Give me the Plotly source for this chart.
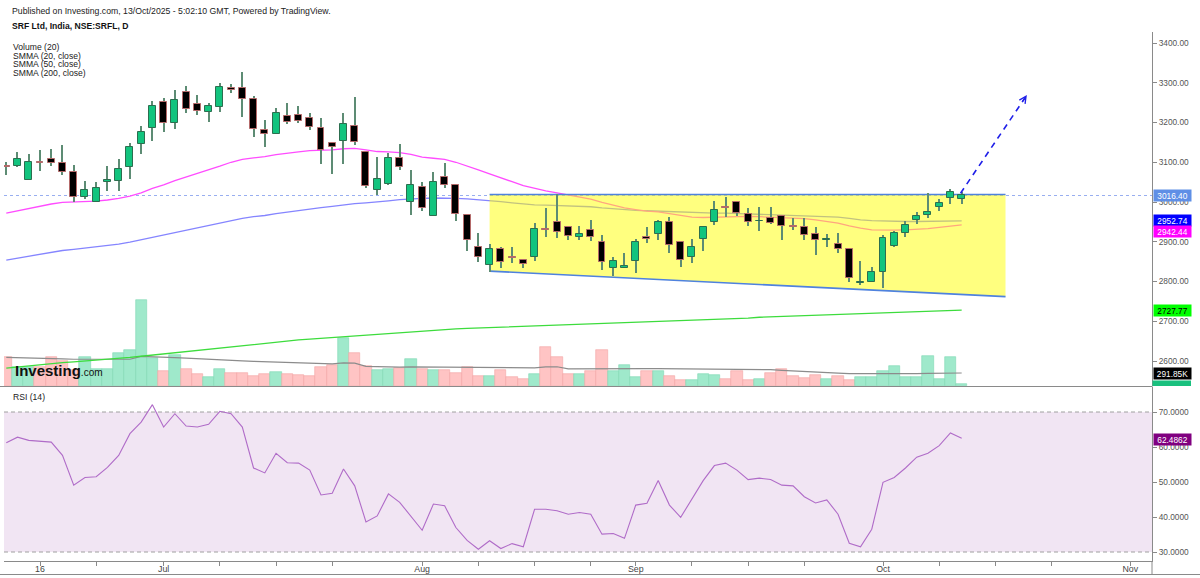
import plotly.graph_objects as go

# ---------------- data ----------------
day_index = list(range(-3, 83))          # trading-day index, 0 = 16 Jun 2025, 82 = 13 Oct 2025

opens = [3090, 3091, 3055, 3101, 3108, 3099, 3076, 3012, 3001, 3051, 3053, 3089, 3146, 3185, 3251, 3200,
         3277, 3247, 3227, 3240, 3288, 3286, 3258, 3180, 3171, 3217, 3219, 3211, 3185, 3149, 3153, 3191,
         3127, 3031, 3045, 3111, 3001, 3038, 2966, 3062, 3043, 2967, 2887, 2841, 2881, 2861, 2854, 2861,
         2931, 2950, 2938, 2913, 2930, 2900, 2833, 2835, 2852, 2913, 2919, 2950, 2900, 2862, 2906, 2949,
         2988, 3000, 2971, 2951, 2959, 2965, 2939, 2938, 2919, 2905, 2894, 2881, 2797, 2800, 2824, 2890,
         2921, 2955, 2967, 2988, 3009, 3007]
highs = [3101, 3127, 3120, 3131, 3133, 3143, 3093, 3053, 3051, 3090, 3107, 3149, 3191, 3254, 3261, 3283,
         3292, 3269, 3248, 3299, 3296, 3326, 3267, 3206, 3237, 3250, 3241, 3225, 3211, 3151, 3225, 3263,
         3127, 3114, 3124, 3146, 3080, 3050, 3075, 3097, 3043, 2967, 2922, 2894, 2886, 2888, 2856, 2947,
         2984, 3019, 2940, 2940, 2955, 2917, 2861, 2872, 2906, 2936, 2955, 2963, 2900, 2906, 2940, 3003,
         3012, 3003, 2986, 2988, 2987, 2967, 2959, 2959, 2938, 2919, 2922, 2881, 2852, 2837, 2917, 2928,
         2953, 2975, 3023, 3007, 3032, 3026]
lows = [3068, 3089, 3055, 3078, 3090, 3068, 3001, 3007, 3000, 3027, 3028, 3057, 3121, 3154, 3177, 3183,
        3225, 3219, 3202, 3227, 3273, 3215, 3164, 3138, 3170, 3196, 3198, 3181, 3096, 3070, 3096, 3143,
        3034, 3017, 3043, 3080, 2967, 2977, 2966, 3034, 2952, 2877, 2848, 2823, 2833, 2846, 2833, 2852,
        2913, 2909, 2904, 2904, 2903, 2829, 2814, 2834, 2821, 2896, 2904, 2871, 2837, 2847, 2877, 2942,
        2963, 2966, 2940, 2928, 2944, 2905, 2930, 2904, 2867, 2886, 2871, 2800, 2791, 2798, 2783, 2888,
        2911, 2944, 2959, 2978, 2995, 2994]
closes = [3088, 3108, 3100, 3099, 3099, 3076, 3013, 3031, 3034, 3055, 3082, 3138, 3177, 3242, 3200, 3257,
          3233, 3230, 3241, 3289, 3283, 3259, 3183, 3171, 3225, 3202, 3203, 3188, 3131, 3138, 3195, 3152,
          3040, 3058, 3111, 3087, 3042, 2986, 3051, 3043, 2971, 2904, 2862, 2881, 2848, 2858, 2843, 2931,
          2929, 2925, 2915, 2919, 2911, 2850, 2852, 2838, 2900, 2906, 2950, 2892, 2854, 2887, 2936, 2980,
          2986, 2973, 2950, 2953, 2948, 2940, 2937, 2917, 2904, 2908, 2881, 2808, 2799, 2824, 2909, 2921,
          2941, 2966, 2974, 2997, 3024, 3016.40]

volume_k = [644, 427, 427, 427, 644, 554, 367, 651, 382, 382, 741, 816, 1938, 629, 344, 703,
            382, 277, 202, 382, 292, 292, 217, 277, 314, 269, 254, 232, 427, 479, 1078, 741,
            456, 352, 389, 404, 614, 382, 352, 367, 292, 427, 232, 217, 367, 202, 157, 269,
            876, 644, 269, 277, 329, 816, 329, 479, 202, 329, 329, 217, 127, 142, 277, 254,
            157, 344, 142, 157, 292, 389, 232, 180, 254, 157, 217, 127, 202, 202, 344, 456,
            202, 202, 681, 157, 644, 40.697]
volume_ma_k = [644, 640, 630, 620, 615, 610, 600, 600, 595, 590, 595, 600, 665, 660, 640, 635,
               625, 610, 595, 585, 575, 565, 555, 545, 535, 525, 515, 505, 500, 495, 520, 515,
               440, 432, 428, 425, 430, 428, 425, 425, 425, 425, 420, 418, 415, 412, 410, 408,
               430, 432, 385, 388, 388, 392, 392, 393, 392, 391, 391, 390, 388, 386, 386, 385,
               383, 380, 378, 372, 366, 350, 335, 318, 305, 295, 288, 280, 277, 276, 277, 280,
               278, 276, 284, 282, 289, 291.85]

smma20 = [2972, 2978, 2984, 2990, 2995, 2999, 3000, 3001, 3002, 3005, 3009, 3015, 3023, 3034, 3043, 3054,
          3063, 3071, 3080, 3090, 3100, 3107, 3111, 3114, 3119, 3123, 3126, 3129, 3130, 3131, 3134, 3135,
          3131, 3127, 3126, 3124, 3120, 3113, 3110, 3107, 3100, 3091, 3081, 3071, 3060, 3051, 3041, 3034,
          3028, 3023, 3018, 3013, 3007, 2999, 2992, 2985, 2981, 2977, 2975, 2971, 2966, 2962, 2961, 2962,
          2963, 2964, 2964, 2963, 2962, 2961, 2960, 2958, 2955, 2951, 2947, 2940, 2934, 2930, 2929, 2929,
          2930, 2931, 2933, 2936, 2939, 2942.44]
smma50 = [2854, 2859, 2864, 2869, 2874, 2878, 2881, 2884, 2887, 2890, 2894, 2899, 2905, 2912, 2918, 2924,
          2930, 2936, 2942, 2948, 2954, 2959, 2963, 2966, 2971, 2975, 2979, 2983, 2986, 2989, 2993, 2996,
          2998, 3000, 3003, 3006, 3008, 3009, 3010, 3010, 3009, 3008, 3006, 3004, 3001, 2998, 2995, 2993,
          2992, 2991, 2990, 2989, 2988, 2985, 2983, 2980, 2979, 2978, 2977, 2976, 2974, 2973, 2972, 2972,
          2972, 2971, 2971, 2970, 2969, 2968, 2967, 2966, 2965, 2964, 2962, 2959, 2955, 2953, 2952, 2952,
          2951, 2951, 2951, 2951, 2952, 2952.74]
smma200 = [2582, 2585, 2588, 2591, 2594, 2596, 2598, 2600, 2602, 2604, 2606, 2609, 2612, 2615, 2618, 2621,
           2624, 2627, 2630, 2633, 2636, 2639, 2642, 2644, 2647, 2650, 2653, 2655, 2657, 2660, 2662, 2664,
           2666, 2668, 2670, 2672, 2674, 2676, 2677, 2679, 2681, 2682, 2683, 2684, 2685, 2686, 2687, 2688,
           2689, 2690, 2691, 2693, 2694, 2695, 2696, 2697, 2698, 2699, 2700, 2701, 2702, 2703, 2704, 2705,
           2706, 2707, 2708, 2710, 2711, 2712, 2713, 2714, 2715, 2716, 2717, 2717, 2718, 2719, 2720, 2721,
           2722, 2723, 2724, 2725, 2726, 2727.77]
rsi14 = [61.2, 62.8, 61.9, 61.7, 61.4, 57.6, 49.1, 51.3, 51.5, 54.2, 57.6, 63.8, 67.1, 72.1, 65.7, 69.5,
         66.0, 65.7, 66.5, 70.2, 69.5, 65.7, 54.0, 52.6, 58.2, 55.5, 55.4, 53.4, 46.3, 46.8, 53.7, 48.9,
         38.6, 40.3, 46.6, 44.2, 40.3, 36.2, 43.7, 43.2, 37.0, 33.3, 30.8, 33.2, 31.0, 32.4, 31.5, 42.2,
         42.2, 41.8, 40.8, 41.3, 40.8, 35.1, 35.3, 33.9, 43.4, 43.9, 50.4, 43.4, 39.9, 45.1, 50.4, 54.7,
         55.4, 53.4, 50.7, 51.1, 50.7, 49.1, 48.9, 45.8, 44.0, 44.9, 40.8, 32.5, 31.5, 36.5, 49.9, 51.3,
         54.0, 57.1, 58.2, 60.4, 64.0, 62.4862]

# drawings
box_x = [40, 85.9]            # trading-day index span of the yellow channel
box_top = 3019.0
box_bottom = [2826.0, 2762.0]  # sloping lower edge
arrow_x = [81.9, 87.8]
arrow_y = [3022.0, 3269.0]
last_price = 3016.40

tick_index = [0, 5, 11, 16, 21, 26, 34, 39, 44, 49, 53, 58, 63, 68, 75, 80, 85, 90, 97]
tick_text = ['16', '', 'Jul', '', '', '', 'Aug', '', '', '', 'Sep', '', '', '', 'Oct', '', '', '', 'Nov']
price_ticks = [2600, 2700, 2800, 2900, 3000, 3100, 3200, 3300, 3400]
rsi_ticks = [30, 40, 50, 60, 70]

# ---------------- layout helpers ----------------
W, H = 1200, 578
L, R, T, B = 4, 48, 32, 17
PW, PH = W - L - R, H - T - B


def px(X):
    return (X - L) / PW


def py(Y):
    return (H - B - Y) / PH


FONT = "Liberation Sans, Arial, sans-serif"
UP_FILL, UP_LINE = '#12c47e', '#2c6e4f'
DN_FILL, DN_LINE = '#000000', '#b46a6a'
WICK = '#5d8c74'

up = [c >= o for o, c in zip(opens, closes)]

fig = go.Figure()

# volume (main subplot, bottom layer)
fig.add_trace(go.Bar(
    x=day_index, y=volume_k, width=1.0, xaxis='x', yaxis='y',
    marker=dict(color=['#9fe9cb' if u else '#ffc4c4' for u in up],
                line=dict(color=['#7fd9b3' if u else '#f2a5a5' for u in up], width=0.6)),
    hoverinfo='skip', showlegend=False))
fig.add_trace(go.Scatter(x=day_index, y=volume_ma_k, mode='lines', xaxis='x', yaxis='y',
                         line=dict(color='#8c8c8c', width=1.2), hoverinfo='skip', showlegend=False))

# moving averages (price subplot)
for vals, col in [(smma200, '#3ddc3d'), (smma50, '#8585ff'), (smma20, '#ff4cff')]:
    fig.add_trace(go.Scatter(x=day_index, y=vals, mode='lines', xaxis='x', yaxis='y2',
                             line=dict(color=col, width=1.3), hoverinfo='skip', showlegend=False))

# yellow channel
fig.add_trace(go.Scatter(
    x=[box_x[0], box_x[1], box_x[1], box_x[0], box_x[0]],
    y=[box_top, box_top, box_bottom[1], box_bottom[0], box_top],
    mode='lines', fill='toself', fillcolor='rgba(255,255,0,0.5)', line=dict(width=0),
    xaxis='x', yaxis='y2', hoverinfo='skip', showlegend=False))
fig.add_trace(go.Scatter(x=box_x, y=[box_top, box_top], mode='lines', xaxis='x', yaxis='y2',
                         line=dict(color='#4f82de', width=1.6), hoverinfo='skip', showlegend=False))
fig.add_trace(go.Scatter(x=box_x, y=box_bottom, mode='lines', xaxis='x', yaxis='y2',
                         line=dict(color='#4f82de', width=1.6), hoverinfo='skip', showlegend=False))

# candles (top subplot)
fig.add_trace(go.Bar(
    x=day_index, y=[h - l for h, l in zip(highs, lows)], base=lows, width=0.1,
    xaxis='x', yaxis='y3', marker=dict(color=WICK, line=dict(width=0)),
    hoverinfo='skip', showlegend=False))
fig.add_trace(go.Bar(
    x=day_index, y=[abs(c - o) for o, c in zip(opens, closes)],
    base=[min(o, c) for o, c in zip(opens, closes)], width=0.62,
    xaxis='x', yaxis='y3',
    marker=dict(color=[UP_FILL if u else DN_FILL for u in up],
                line=dict(color=[UP_LINE if u else DN_LINE for u in up], width=1)),
    hoverinfo='skip', showlegend=False))

# RSI
fig.add_trace(go.Scatter(x=day_index, y=rsi14, mode='lines', xaxis='x', yaxis='y4',
                         line=dict(color='#b06cc8', width=1.1), hoverinfo='skip', showlegend=False))

p_lo = 3400 - (386 - 43) / 0.3975
p_hi = 3400 + (43 - 32) / 0.3975
r_lo = 30 - (561 - 552) / 3.5
r_hi = 30 + (552 - 387) / 3.5
price_dom = [py(386), 1]
rsi_dom = [0, py(387)]

axis_font = dict(family=FONT, size=8.3, color='#555')
fig.update_layout(
    width=W, height=H, margin=dict(l=L, r=R, t=T, b=B, autoexpand=False), autosize=False,
    paper_bgcolor='white', plot_bgcolor='white', barmode='overlay', bargap=0,
    font=dict(family=FONT, color='#333'), showlegend=False,
    xaxis=dict(range=[(L - 40) / 11.24, (W - R - 40) / 11.24], anchor='y4', showgrid=False, zeroline=False,
               automargin=False, ticklabelstandoff=-5,
               showline=True, linecolor='#8a8a8a', linewidth=1, ticks='outside', ticklen=4,
               tickcolor='#8a8a8a', tickvals=tick_index, ticktext=tick_text,
               tickfont=dict(family=FONT, size=8.8, color='#444')),
    yaxis=dict(domain=price_dom, range=[0, (386 - 32) * 22.45], visible=False, fixedrange=True,
               automargin=False),
    yaxis2=dict(domain=price_dom, range=[p_lo, p_hi], overlaying='y', side='right', anchor='x',
                automargin=False,
                showgrid=False, zeroline=False, showline=True, linecolor='#8a8a8a', linewidth=1,
                ticks='outside', ticklen=4, tickcolor='#8a8a8a', tickvals=price_ticks,
                tickformat='.2f', tickfont=axis_font),
    yaxis3=dict(domain=price_dom, range=[p_lo, p_hi], overlaying='y', visible=False, automargin=False),
    yaxis4=dict(domain=rsi_dom, range=[r_lo, r_hi], side='right', anchor='x', showgrid=False,
                automargin=False,
                zeroline=False, showline=True, linecolor='#8a8a8a', linewidth=1, ticks='outside',
                ticklen=4, tickcolor='#8a8a8a', tickvals=rsi_ticks, tickformat='.4f', tickfont=axis_font),
)

shapes = [
    # RSI band
    dict(type='rect', xref='x domain', yref='y4', x0=0, x1=1, y0=30, y1=70,
         fillcolor='#f1e5f3', line=dict(width=0), layer='below'),
    dict(type='line', xref='x domain', yref='y4', x0=0, x1=1, y0=70, y1=70,
         line=dict(color='#a0a0a0', width=1, dash='4px,3px'), layer='below'),
    dict(type='line', xref='x domain', yref='y4', x0=0, x1=1, y0=30, y1=30,
         line=dict(color='#a0a0a0', width=1, dash='4px,3px'), layer='below'),
    # last price dotted line
    dict(type='line', xref='x domain', yref='y2', x0=0, x1=1, y0=last_price, y1=last_price,
         line=dict(color='#98aef0', width=1.2, dash='dot'), layer='below'),
    # pane separator and frame
    dict(type='line', xref='paper', yref='paper', x0=px(0), x1=1, y0=py(386.5), y1=py(386.5),
         line=dict(color='#8a8a8a', width=1)),
    dict(type='line', xref='paper', yref='paper', x0=1, x1=1, y0=py(561), y1=py(574),
         line=dict(color='#8a8a8a', width=1)),
    dict(type='line', xref='paper', yref='paper', x0=px(0), x1=px(1200), y0=py(574.5), y1=py(574.5),
         line=dict(color='#8a8a8a', width=1)),
    dict(type='line', xref='paper', yref='paper', x0=1, x1=1, y0=py(386), y1=py(387),
         line=dict(color='#8a8a8a', width=1)),
    # forecast arrow (dashed body)
    dict(type='line', xref='x', yref='y2', x0=arrow_x[0], y0=arrow_y[0], x1=arrow_x[1], y1=arrow_y[1],
         line=dict(color='#1f1fe8', width=1.6, dash='6px,5px')),
    # clipped volume label
    dict(type='rect', xref='paper', yref='paper', x0=px(1152.5), x1=px(1191), y0=py(386), y1=py(380.5),
         fillcolor='#19c07e', line=dict(width=0)),
]
fig.update_layout(shapes=shapes)

ann = []


def text(X, Y, s, size=8.6, bold=False, color='#222'):
    ann.append(dict(xref='paper', yref='paper', x=px(X), y=py(Y), xanchor='left', yanchor='middle',
                    text=('<b>%s</b>' % s) if bold else s, showarrow=False,
                    font=dict(family=FONT, size=size, color=color)))


text(10, 11, 'Published on Investing.com, 13/Oct/2025 - 5:02:10 GMT, Powered by TradingView.', 8.7)
text(10, 26, 'SRF Ltd, India, NSE:SRFL, D', 8.6, bold=True, color='#111')
text(11, 47, 'Volume (20)', 8.6)
text(11, 55.7, 'SMMA (20, close)', 8.6)
text(11, 64.4, 'SMMA (50, close)', 8.6)
text(11, 73.1, 'SMMA (200, close)', 8.6)
text(11, 397, 'RSI (14)', 8.6)
ann.append(dict(xref='paper', yref='paper', x=px(13), y=py(370), xanchor='left', yanchor='middle',
                showarrow=False,
                text="<b>Investing</b><span style='font-size:10px'>.com</span>",
                font=dict(family="Liberation Sans, Arial, sans-serif", size=15, color='#111')))


def tag(s, Yc, bg, fg='white'):
    ann.append(dict(xref='paper', yref='paper', x=px(1152.5), y=py(Yc), xanchor='left', yanchor='middle',
                    text=s, showarrow=False, bgcolor=bg, width=36, height=10, borderpad=0.5,
                    font=dict(family=FONT, size=8.3, color=fg)))


tag('%.2f' % last_price, 195.3, '#5f8fe6')
tag('%.2f' % smma50[-1], 220.8, '#0000ff')
tag('%.2f' % smma20[-1], 232.0, '#ff00ff')
tag('%.2f' % smma200[-1], 310.5, '#00ff00', '#000')
tag('%.2fK' % volume_ma_k[-1], 373.6, '#000000')
tag('%.4f' % rsi14[-1], 439.0, '#800080')

# arrow head
ann.append(dict(xref='x', yref='y2', axref='x', ayref='y2', x=arrow_x[1], y=arrow_y[1],
                ax=arrow_x[1] - 0.45, ay=arrow_y[1] - 19, text='', showarrow=True,
                arrowhead=5, arrowsize=0.9, arrowwidth=1.5, arrowcolor='#1f1fe8'))

fig.update_layout(annotations=ann)
fig.write_html("out.html")
